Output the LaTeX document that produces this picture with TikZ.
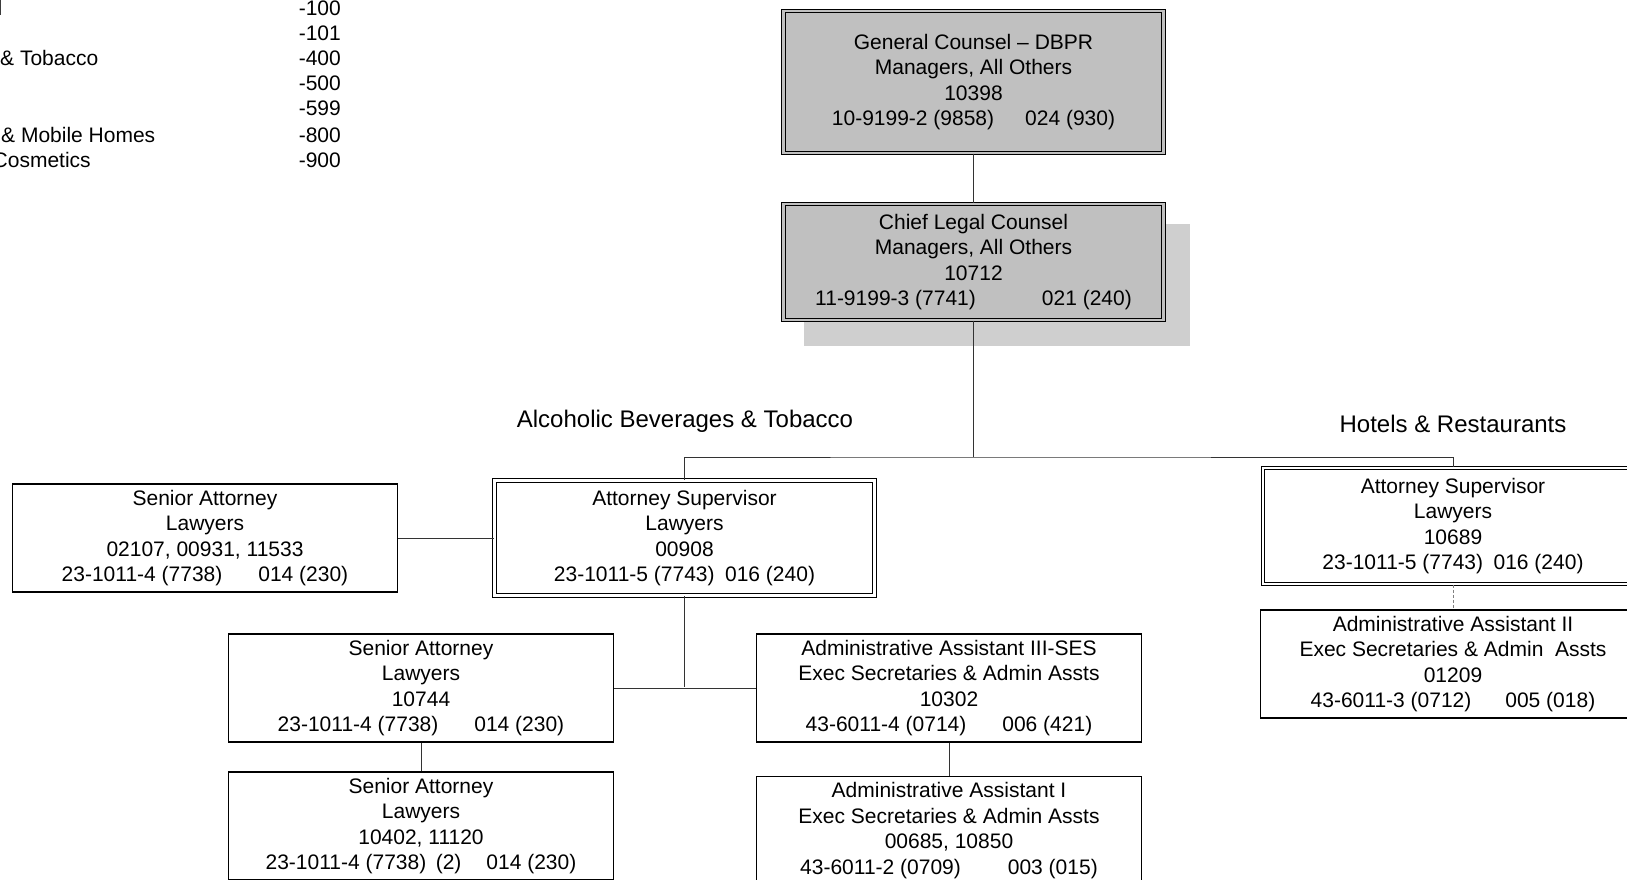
\documentclass[tikz,border=0pt]{standalone}
\usepackage{fontspec}
\setmainfont{Liberation Sans}
\newfontfamily\chartfont[Ligatures=TeX]{Liberation Sans}
\definecolor{boxgray}{HTML}{C0C0C0}
\definecolor{shadegray}{HTML}{CFCFCF}
\definecolor{linegray}{HTML}{333333}
\begin{document}
\begin{tikzpicture}[x=1pt,y=-1pt,
  txt/.style={font=\chartfont\fontsize{21}{25.6}\selectfont, inner sep=0pt},
  heading/.style={font=\chartfont\fontsize{24}{28}\selectfont, inner sep=0pt},
  posbox/.style={txt, draw, line width=1.3pt, fill=white, align=center,
    minimum width=385pt, minimum height=108pt},
  headbox/.style={posbox, double, double distance=2.4pt, line width=1.2pt,
    minimum width=380pt},
  link/.style={draw=linegray, line width=1pt},
  dashlink/.style={draw=gray, line width=1pt, dashed, dash pattern=on 3pt off 2pt}]
\useasboundingbox (0,0) rectangle (1627,880);
\clip (0,0) rectangle (1627,880);

% division code legend
\node[txt, anchor=east] (lg1) at (2.5,8.3) {Counsel};
\node[txt, anchor=east] (n1) at (341,8.3) {-100};
\node[txt, anchor=east] (n2) at (341,33.3) {-101};
\node[txt, anchor=west] (lg3) at (0,58.3) {\& Tobacco};
\node[txt, anchor=east] (n3) at (341,58.3) {-400};
\node[txt, anchor=east] (n4) at (341,83.3) {-500};
\node[txt, anchor=east] (n5) at (341,108.3) {-599};
\node[txt, anchor=west] (lg6) at (1,135) {\& Mobile Homes};
\node[txt, anchor=east] (n6) at (341,135) {-800};
\node[txt, anchor=west] (lg7) at (-7.5,160) {Cosmetics};
\node[txt, anchor=east] (n7) at (341,160) {-900};

% shadow behind the chief legal counsel box
\fill[shadegray] (804,224) rectangle (1190,346);

% executive boxes
\node[headbox, fill=boxgray, double=boxgray, minimum height=142pt] (gc) at (973.5,82)
  {General Counsel – DBPR\\Managers, All Others\\10398\\10-9199-2 (9858)\hspace{31pt}024 (930)};
\node[headbox, fill=boxgray, double=boxgray, minimum height=116pt] (clc) at (973.5,262)
  {Chief Legal Counsel\\Managers, All Others\\10712\\11-9199-3 (7741)\hspace{66pt}021 (240)};

% section labels
\node[heading] (abt) at (685,421) {Alcoholic Beverages \& Tobacco};
\node[heading] (hr) at (1453,424) {Hotels \& Restaurants};

% Alcoholic Beverages & Tobacco section
\node[headbox, minimum height=115pt] (asabt) at (684.5,538)
  {Attorney Supervisor\\Lawyers\\00908\\23-1011-5 (7743)\hspace{10.5pt}016 (240)};
\node[posbox] (saleft) at (205,538)
  {Senior Attorney\\Lawyers\\02107, 00931, 11533\\23-1011-4 (7738)\hspace{36pt}014 (230)};
\node[posbox] (sa1) at (421,688)
  {Senior Attorney\\Lawyers\\10744\\23-1011-4 (7738)\hspace{36pt}014 (230)};
\node[posbox] (aa3) at (949,688)
  {Administrative Assistant III-SES\\Exec Secretaries \& Admin Assts\\10302\\43-6011-4 (0714)\hspace{36pt}006 (421)};
\node[posbox] (sa2) at (421,826)
  {Senior Attorney\\Lawyers\\10402, 11120\\23-1011-4 (7738)\hspace{9.5pt}(2)\hspace{25pt}014 (230)};
\node[posbox] (aa1) at (949,830.5)
  {Administrative Assistant I\\Exec Secretaries \& Admin Assts\\00685, 10850\\43-6011-2 (0709)\hspace{47pt}003 (015)};

% Hotels & Restaurants section
\node[headbox, minimum height=116pt] (ashr) at (1453,526)
  {Attorney Supervisor\\Lawyers\\10689\\23-1011-5 (7743)\hspace{10.5pt}016 (240)};
\node[posbox] (aa2) at (1453,664)
  {Administrative Assistant II\\Exec Secretaries \& Admin\ \ Assts\\01209\\43-6011-3 (0712)\hspace{34pt}005 (018)};

% reporting lines
\coordinate (bus) at (973.5,457);
\coordinate (abus) at (684.5,687);
\draw[link] (gc.south) -- (clc.north);
\draw[link] (clc.south) -- (bus);
\draw[link] (asabt.north) |- (bus) -| (ashr.north);
\draw[link] (saleft.east) -- (asabt.west);
\draw[link] (asabt.south) -- (abus);
\draw[link] (sa1.east) -- (aa3.west);
\draw[link] (sa1.south) -- (sa2.north);
\draw[link] (aa3.south) -- (aa1.north);
\draw[dashlink] (ashr.south) -- (aa2.north);
\end{tikzpicture}
\end{document}
